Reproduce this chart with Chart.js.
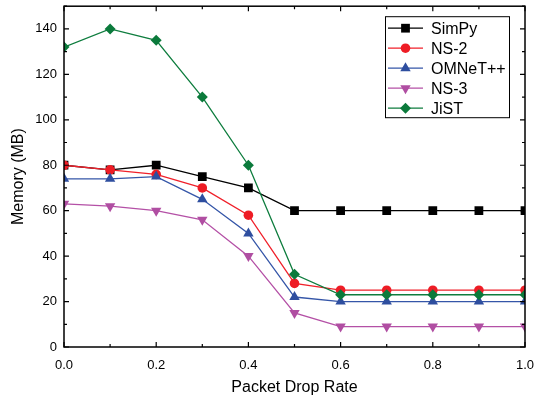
<!DOCTYPE html>
<html><head><meta charset="utf-8">
<script src="https://cdn.jsdelivr.net/npm/chart.js@4/dist/chart.umd.min.js"></script>
<style>html,body{margin:0;padding:0;background:#fff}</style>
</head><body>
<canvas id="c" width="535" height="400"></canvas>
<script>
const dropRates = [0.0, 0.1, 0.2, 0.3, 0.4, 0.5, 0.6, 0.7, 0.8, 0.9, 1.0];
const simpy  = [80, 78, 80, 75, 70, 60, 60, 60, 60, 60, 60];
const ns2    = [80, 78, 76, 70, 58, 28, 25, 25, 25, 25, 25];
const omnet  = [74, 74, 75, 65, 50, 22, 20, 20, 20, 20, 20];
const ns3    = [63, 62, 60, 56, 40, 15, 9, 9, 9, 9, 9];
const jist   = [132, 140, 135, 110, 80, 32, 23, 23, 23, 23, 23];
const seriesNames = ['SimPy', 'NS-2', 'OMNeT++', 'NS-3', 'JiST'];
const xTitle = 'Packet Drop Rate';
const yTitle = 'Memory (MB)';

const styles = [
  {line: '#000000', fill: '#000000', pointStyle: 'rect', radius: 6.2, rotation: 0},
  {line: '#f0202a', fill: '#ee1c25', pointStyle: 'circle', radius: 4.8, rotation: 0},
  {line: '#3556a8', fill: '#2e4e9f', pointStyle: 'triangle', radius: 6, rotation: 0},
  {line: '#b450a6', fill: '#b04ea2', pointStyle: 'triangle', radius: 6, rotation: 180},
  {line: '#0e7d3e', fill: '#0b7a3b', pointStyle: 'rectRot', radius: 5.5, rotation: 0}
];
const allSeries = [simpy, ns2, omnet, ns3, jist];

const datasets = allSeries.map((vals, i) => ({
  label: seriesNames[i],
  data: vals.map((v, j) => ({x: dropRates[j], y: v})),
  borderColor: styles[i].line,
  backgroundColor: styles[i].fill,
  pointBackgroundColor: styles[i].fill,
  pointBorderColor: styles[i].fill,
  pointBorderWidth: 0,
  pointStyle: styles[i].pointStyle,
  pointRadius: styles[i].radius,
  pointRotation: styles[i].rotation,
  borderWidth: 1.3,
  tension: 0,
  order: 5 - i
}));

const frame = {
  id: 'frame',
  afterDraw(chart) {
    const ctx = chart.ctx, ca = chart.chartArea;
    const xs = chart.scales.x, ys = chart.scales.y;
    ctx.save();
    ctx.strokeStyle = '#000';
    ctx.lineWidth = 1.5;
    ctx.strokeRect(ca.left, ca.top, ca.right - ca.left, ca.bottom - ca.top);
    ctx.lineWidth = 1.2;
    ctx.beginPath();
    xs.ticks.forEach(t => {
      const px = xs.getPixelForValue(t.value);
      const major = Math.round(t.value * 10) % 2 === 0;
      const L = major ? 5 : 3;
      ctx.moveTo(px, ca.bottom); ctx.lineTo(px, ca.bottom - L);
      ctx.moveTo(px, ca.top); ctx.lineTo(px, ca.top + L);
    });
    ys.ticks.forEach(t => {
      const py = ys.getPixelForValue(t.value);
      const major = Math.round(t.value) % 20 === 0;
      const L = major ? 5 : 3;
      ctx.moveTo(ca.left, py); ctx.lineTo(ca.left + L, py);
      ctx.moveTo(ca.right, py); ctx.lineTo(ca.right - L, py);
    });
    ctx.stroke();

    // legend
    const bx = ca.right - 140, by = ca.top + 10, bw = 124, bh = 101;
    ctx.fillStyle = '#fff';
    ctx.fillRect(bx, by, bw, bh);
    ctx.lineWidth = 1;
    ctx.strokeStyle = '#000';
    ctx.strokeRect(bx + 0.5, by + 0.5, bw, bh);
    ctx.font = '16px "Liberation Sans", Arial, sans-serif';
    ctx.textBaseline = 'middle';
    ctx.textAlign = 'left';
    seriesNames.forEach((name, i) => {
      const cy = by + 12 + i * 20;
      const s = styles[i];
      ctx.strokeStyle = s.line;
      ctx.lineWidth = 1.3;
      ctx.beginPath();
      ctx.moveTo(bx + 3, cy); ctx.lineTo(bx + 38, cy);
      ctx.stroke();
      ctx.fillStyle = s.fill;
      Chart.helpers.drawPoint(ctx, {pointStyle: s.pointStyle, radius: s.radius, rotation: s.rotation, borderWidth: 0}, bx + 20.5, cy);
      ctx.fillStyle = '#000';
      ctx.fillText(name, bx + 46, cy + 1);
    });
    ctx.restore();
  }
};

Chart.defaults.font.family = '"Liberation Sans", Arial, sans-serif';
Chart.defaults.color = '#000';

new Chart(document.getElementById('c'), {
  type: 'line',
  data: {datasets},
  options: {
    responsive: false,
    animation: false,
    devicePixelRatio: 1,
    layout: {padding: {left: 0, right: 10, top: 6, bottom: 0}},
    plugins: {legend: {display: false}, tooltip: {enabled: false}},
    scales: {
      x: {
        type: 'linear', min: 0, max: 1,
        afterFit(s) { s.height = 53; s.paddingLeft = 0; s.paddingRight = 0; },
        grid: {display: false, drawTicks: false},
        border: {display: false},
        ticks: {
          stepSize: 0.1, padding: 11, font: {size: 13}, color: '#000', maxRotation: 0, autoSkip: false,
          callback: v => (Math.round(v * 10) % 2 === 0 ? v.toFixed(1) : '')
        },
        title: {display: true, text: xTitle, font: {size: 16}, color: '#000', padding: {top: 4, bottom: 3}}
      },
      y: {
        type: 'linear', min: 0, max: 150,
        afterFit(s) { s.width = 64; s.paddingTop = 0; s.paddingBottom = 0; },
        grid: {display: false, drawTicks: false},
        border: {display: false},
        ticks: {
          stepSize: 10, padding: 7, font: {size: 13}, color: '#000', autoSkip: false,
          callback: v => (Math.round(v) % 20 === 0 ? String(v) : '')
        },
        title: {display: true, text: yTitle, font: {size: 16}, color: '#000', padding: {top: 9, bottom: 4}}
      }
    }
  },
  plugins: [frame]
});
</script>
</body></html>
